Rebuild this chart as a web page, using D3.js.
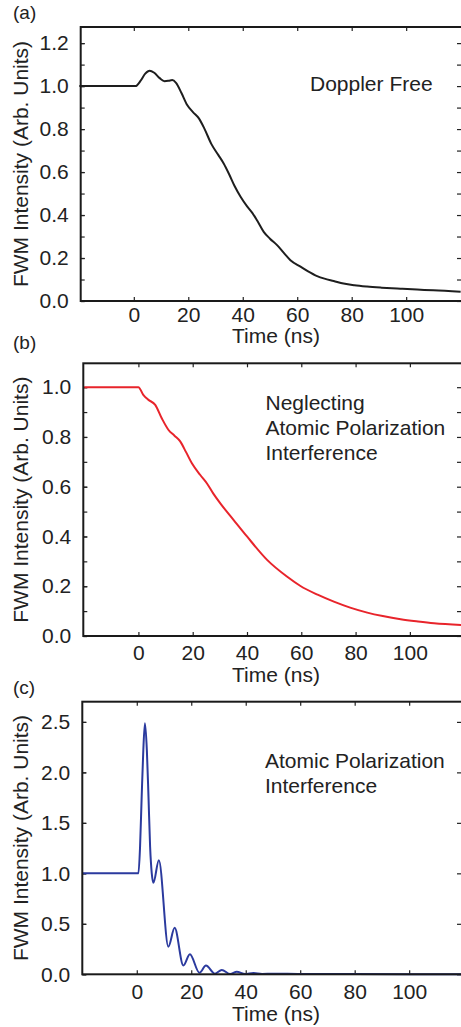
<!DOCTYPE html>
<meta charset="utf-8">
<head>
    <script src="https://d3js.org/d3.v7.min.js"></script>
    <style>
        body { margin: 0; background: #fff; }
        text { font-family: "Liberation Sans", Arial, sans-serif; fill: #222; }
        .axis path { display: none; }
        .axis line { stroke: #222; stroke-width: 1.2; }
        .axis text { font-size: 21px; fill: #222; font-family: "Liberation Sans", Arial, sans-serif; }
    </style>
</head>
<body>
<div id="my_dataviz"></div>
<script>

// tick labels
var xTicks = [0, 20, 40, 60, 80, 100];
var yTicksA = [0, 0.2, 0.4, 0.6, 0.8, 1.0, 1.2];
var yTicksB = [0, 0.2, 0.4, 0.6, 0.8, 1.0];
var yTicksC = [0, 0.5, 1.0, 1.5, 2.0, 2.5];

// (a) Doppler free
var timeA = [-20, 0, 0.6, 2.5, 4.2, 5.8, 7.5, 9.5, 11.3, 12.8, 14.1, 15.5, 17.5, 19.6, 21.8, 23.9, 26, 28.5, 31, 33, 35, 37, 39.2, 41.6, 43.5, 45.5, 47.7, 50, 52.6, 55, 57.5, 61.2, 64, 67.3, 70, 73.4, 77, 81, 85.6, 91, 97.9, 104, 110, 120];
var fwmA  = [1.0, 1.0, 1.0, 1.025, 1.058, 1.072, 1.062, 1.037, 1.023, 1.025, 1.028, 1.015, 0.968, 0.912, 0.878, 0.85, 0.8, 0.73, 0.68, 0.64, 0.59, 0.535, 0.485, 0.44, 0.41, 0.37, 0.322, 0.29, 0.26, 0.225, 0.19, 0.16, 0.138, 0.116, 0.104, 0.093, 0.081, 0.073, 0.067, 0.062, 0.057, 0.053, 0.05, 0.043];

// (b) neglecting atomic polarization interference
var timeB = [-20, 0, 1.8, 3.7, 6.2, 8.6, 11.1, 13.3, 15.4, 17.5, 19.7, 22.8, 25.2, 27.6, 30.1, 35.1, 40, 47.4, 54.7, 59.7, 66, 72, 78, 84.3, 90, 96.6, 103, 108.9, 119];
var fwmB  = [1.0, 1.0, 0.969, 0.949, 0.929, 0.875, 0.828, 0.805, 0.782, 0.74, 0.694, 0.647, 0.614, 0.572, 0.534, 0.466, 0.4, 0.306, 0.239, 0.201, 0.166, 0.138, 0.114, 0.094, 0.08, 0.067, 0.058, 0.051, 0.044];

// (c) atomic polarization interference
var timeC = [-20, 0, 0.6, 1.2, 1.8, 2.4, 3.0, 3.7, 4.3, 4.9, 5.5, 6.1, 8.1, 11.6, 13.9, 17.1, 19.5, 23.0, 25.4, 28.7, 31.2, 34.3, 36.7, 39.8, 42.8, 46, 50, 60, 80, 100, 119.4];
var fwmC  = [1.0, 1.0, 1.0, 1.26, 1.76, 2.22, 2.487, 2.22, 1.76, 1.26, 1.0, 0.907, 1.13, 0.273, 0.46, 0.087, 0.198, 0.015, 0.087, 0.006, 0.043, 0.002, 0.025, 0.002, 0.013, 0.004, 0.006, 0.003, 0.002, 0.001, 0.001];

var panels = [
    { tag: "(a)", time: timeA, fwm: fwmA, color: "#1e1e1e", xDomain: [-19.5, 120.5], yDomain: [0, 1.275],
      yTicks: yTicksA, yMinor: 0.1, left: 80.7, top: 27, bottom: 301, tickGap: 21, titleGap: 42,
      note: ["Doppler Free"], noteX: 310, noteY: 91, tagY: 19 },
    { tag: "(b)", time: timeB, fwm: fwmB, color: "#e8242b", xDomain: [-20.3, 119.2], yDomain: [0, 1.096],
      yTicks: yTicksB, yMinor: 0.1, left: 83.3, top: 363.3, bottom: 636, tickGap: 24.5, titleGap: 45.8,
      note: ["Neglecting", "Atomic Polarization", "Interference"], noteX: 265.5, noteY: 410, tagY: 349 },
    { tag: "(c)", time: timeC, fwm: fwmC, color: "#2b3a9e", xDomain: [-20, 119.4], yDomain: [0, 2.7],
      yTicks: yTicksC, yMinor: 0.5, left: 82.3, top: 701.7, bottom: 974.3, tickGap: 25, titleGap: 46.5,
      note: ["Atomic Polarization", "Interference"], noteX: 265, noteY: 768, tagY: 694 }
];

var width = 461, height = 1027, right = 462;

var svg = d3.select("#my_dataviz").append("svg")
    .attr("width", width)
    .attr("height", height);

panels.forEach(function (p) {
    var x = d3.scaleLinear().domain(p.xDomain).range([p.left, right]);
    var y = d3.scaleLinear().domain(p.yDomain).range([p.bottom, p.top]);
    var g = svg.append("g");

    var minor = d3.range(0, p.yDomain[1] + 1e-9, p.yMinor);

    // inward ticks on all four sides
    g.append("g").attr("class", "axis")
        .attr("transform", "translate(0," + p.bottom + ")")
        .call(d3.axisBottom(x).tickValues(xTicks).tickSize(-4).tickPadding(p.tickGap - 15).tickFormat(d3.format("d")));
    g.append("g").attr("class", "axis")
        .attr("transform", "translate(0," + p.top + ")")
        .call(d3.axisTop(x).tickValues(xTicks).tickSize(-4).tickFormat(""));
    g.append("g").attr("class", "axis")
        .attr("transform", "translate(" + p.left + ",0)")
        .call(d3.axisLeft(y).tickValues(minor).tickSize(-4).tickFormat(""));
    g.append("g").attr("class", "axis")
        .attr("transform", "translate(" + p.left + ",0)")
        .call(d3.axisLeft(y).tickValues(p.yTicks).tickSize(-4).tickPadding(12).tickFormat(d3.format(".1f")));
    g.append("g").attr("class", "axis")
        .attr("transform", "translate(" + (right - 1) + ",0)")
        .call(d3.axisRight(y).tickValues(minor).tickSize(-4).tickFormat(""));

    // curve
    var line = d3.line()
        .x(function (d, i) { return x(p.time[i]); })
        .y(function (d) { return y(d); })
        .curve(d3.curveMonotoneX);
    g.append("path")
        .datum(p.fwm)
        .attr("fill", "none")
        .attr("stroke", p.color)
        .attr("stroke-width", 2)
        .attr("d", line);

    // frame
    g.append("rect")
        .attr("x", p.left).attr("y", p.top)
        .attr("width", right - p.left).attr("height", p.bottom - p.top)
        .attr("fill", "none").attr("stroke", "#1a1a1a").attr("stroke-width", 2);

    // labels
    g.append("text")
        .attr("x", 276).attr("y", p.bottom + p.titleGap)
        .attr("text-anchor", "middle").style("font-size", "21px")
        .text("Time (ns)");
    g.append("text")
        .attr("transform", "translate(27.5," + ((p.top + p.bottom) / 2) + ") rotate(-90)")
        .attr("text-anchor", "middle").style("font-size", "21px")
        .text("FWM Intensity (Arb. Units)");
    g.append("text")
        .attr("x", 13).attr("y", p.tagY)
        .style("font-size", "19px")
        .text(p.tag);
    p.note.forEach(function (s, i) {
        g.append("text")
            .attr("x", p.noteX).attr("y", p.noteY + i * 25)
            .style("font-size", "21px")
            .text(s);
    });
});

</script>
</body>
